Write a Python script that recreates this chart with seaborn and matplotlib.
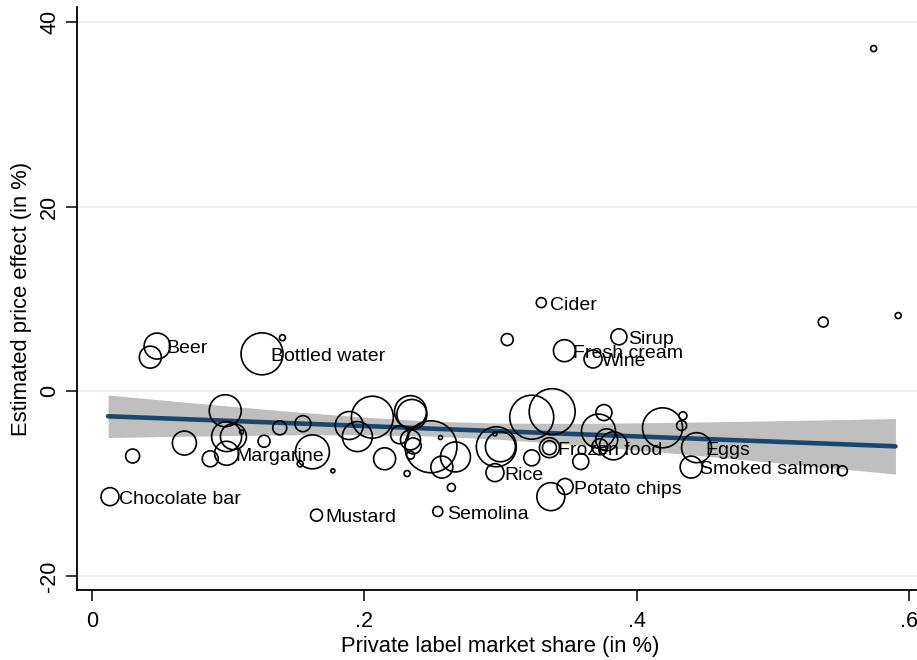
import matplotlib
matplotlib.use("Agg")
import matplotlib.pyplot as plt
import pandas as pd
import seaborn as sns

# Product categories (only a few are labelled on the chart)
product = [
    "Beer", "", "Bottled water", "", "Cider", "", "Sirup", "Fresh cream", "Wine",
    "", "", "", "Chocolate bar", "Mustard", "Semolina", "Rice", "Potato chips", "",
    "Frozen food", "", "Eggs", "Smoked salmon", "", "", "", "", "", "", "Margarine",
    "", "", "", "", "", "", "", "", "", "", "", "", "", "", "", "", "", "", "", "",
    "", "", "", "", "", "", "", "", "", "", "", "", "", "", "", "", "", "", "",
]

# Private label market share (share, not percent)
share = [
    0.048, 0.043, 0.125, 0.140, 0.330, 0.305, 0.387, 0.347, 0.368,
    0.537, 0.592, 0.574, 0.0134, 0.165, 0.254, 0.296, 0.3475, 0.337,
    0.336, 0.336, 0.444, 0.440, 0.551, 0.030, 0.068, 0.098, 0.099, 0.104, 0.099,
    0.087, 0.110, 0.1265, 0.138, 0.155, 0.162, 0.153, 0.177, 0.189, 0.195, 0.206,
    0.215, 0.234, 0.235, 0.226, 0.234, 0.236, 0.234, 0.2315, 0.249, 0.256,
    0.257, 0.267, 0.264, 0.297, 0.300, 0.296, 0.323, 0.338, 0.323, 0.359,
    0.376, 0.372, 0.378, 0.373, 0.383, 0.419, 0.434, 0.433,
]

# Estimated price effect (in %)
effect = [
    4.9, 3.7, 4.06, 5.8, 9.6, 5.6, 5.9, 4.4, 3.5,
    7.5, 8.2, 37.1, -11.4, -13.4, -13.0, -8.8, -10.3, -11.4,
    -6.1, -6.1, -6.1, -8.2, -8.6, -7.0, -5.6, -2.1, -4.9, -4.9, -6.7,
    -7.3, -4.4, -5.4, -3.95, -3.5, -6.55, -7.85, -8.6, -3.7, -4.9, -2.8,
    -7.3, -2.2, -2.5, -4.7, -5.25, -5.9, -6.9, -8.9, -6.0, -5.0,
    -8.2, -7.1, -10.4, -6.0, -6.0, -4.6, -2.8, -2.2, -7.2, -7.6,
    -2.3, -4.3, -5.25, -6.0, -5.9, -3.95, -2.65, -3.7,
]

# Analytic weight of each category (marker area is proportional to it)
weight = [
    169, 121, 441, 9, 25, 36, 64, 121, 81,
    25, 9, 9, 81, 36, 25, 81, 64, 196,
    100, 49, 225, 121, 25, 49, 144, 256, 225, 169, 144,
    64, 4, 36, 49, 64, 289, 9, 4, 196, 225, 441,
    121, 256, 225, 81, 100, 64, 16, 9, 676, 4,
    121, 225, 16, 400, 225, 4, 484, 529, 64, 64,
    64, 289, 121, 64, 196, 400, 16, 25,
]

# Weighted linear fit with 95% confidence band
fit_x = [0.012, 0.05, 0.10, 0.15, 0.20, 0.25, 0.30, 0.35, 0.40, 0.45, 0.50, 0.55, 0.59]
fit_y = [-2.70, -2.91, -3.19, -3.47, -3.75, -4.04, -4.32, -4.60, -4.88, -5.16, -5.44, -5.72, -5.95]
ci_lo = [-5.00, -4.90, -4.79, -4.71, -4.70, -4.84, -5.20, -5.73, -6.35, -7.01, -7.69, -8.39, -8.95]
ci_hi = [-0.40, -0.92, -1.59, -2.23, -2.80, -3.24, -3.44, -3.47, -3.41, -3.31, -3.19, -3.05, -2.95]

x_ticks = [0, 0.2, 0.4, 0.6]
x_ticklabels = ["0", ".2", ".4", ".6"]
y_ticks = [-20, 0, 20, 40]
y_ticklabels = ["-20", "0", "20", "40"]

df = pd.DataFrame({"product": product, "share": share, "effect": effect, "weight": weight})

sns.set_theme(style="white")
plt.rcParams["font.family"] = ["Liberation Sans", "DejaVu Sans"]
plt.rcParams.update({
    "text.color": "black",
    "axes.labelcolor": "black",
    "xtick.color": "black",
    "ytick.color": "black",
})

fig = plt.figure(figsize=(9.17, 6.6), dpi=100)
ax = fig.add_axes([0.084, 0.1061, 0.9237, 0.8833])

for yv in y_ticks:
    ax.axhline(yv, color="#eaf0f2", lw=1.3, zorder=0)

ax.fill_between(fit_x, ci_lo, ci_hi, color="#bfbfbf", lw=0, zorder=1)
sns.lineplot(x=fit_x, y=fit_y, color="#1a476f", lw=3.3, ax=ax, zorder=2)

wmin, wmax = min(weight), max(weight)
area_per_weight = 2.07
sns.scatterplot(
    data=df, x="share", y="effect", size="weight",
    sizes=(area_per_weight * wmin, area_per_weight * wmax), size_norm=(wmin, wmax),
    color="black", facecolors="none", edgecolor="black", linewidth=1.2,
    legend=False, ax=ax, zorder=3,
)

for name, xv, yv in zip(product, share, effect):
    if name:
        ax.annotate(name, (xv, yv), xytext=(6.5, -2), textcoords="offset points",
                    ha="left", va="center", fontsize=14, color="black", zorder=4)

ax.set_xlim(-0.0108, 0.611)
ax.set_ylim(-21.5, 41.6)
ax.set_xticks(x_ticks)
ax.set_xticklabels(x_ticklabels, fontsize=15.5)
ax.set_yticks(y_ticks)
ax.set_yticklabels(y_ticklabels, fontsize=15.5, rotation=90, va="center")
ax.tick_params(axis="x", direction="out", length=8, width=1.1, color="black",
               bottom=True, pad=7)
ax.tick_params(axis="y", direction="out", length=8, width=1.1, color="black",
               left=True, pad=4)

for side in ["top", "right"]:
    ax.spines[side].set_visible(False)
for side in ["left", "bottom"]:
    ax.spines[side].set_color("black")
    ax.spines[side].set_linewidth(1.3)

ax.set_xlabel("Private label market share (in %)", fontsize=15.8, labelpad=3)
ax.set_ylabel("Estimated price effect (in %)", fontsize=15.8, labelpad=5)

fig.savefig("out.png", dpi=100)
